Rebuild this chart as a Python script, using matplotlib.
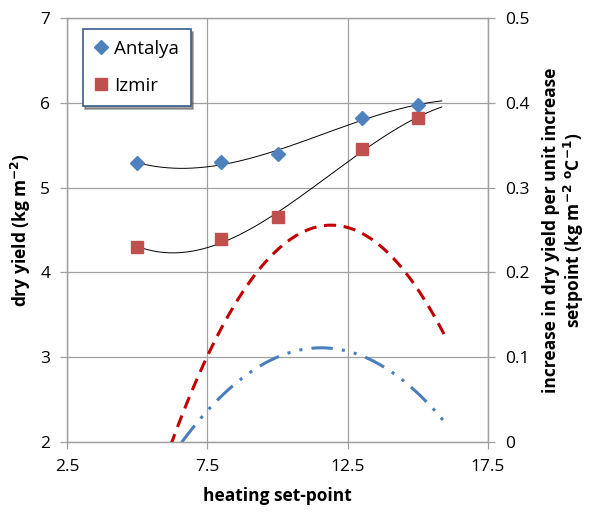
import numpy as np
import matplotlib
matplotlib.use("Agg")
import matplotlib.pyplot as plt

plt.rcParams['font.family'] = ['Open Sans', 'DejaVu Sans']
plt.rcParams['mathtext.default'] = 'bf'

setpoint = [5, 8, 10, 13, 15]
antalya = [5.29, 5.30, 5.40, 5.82, 5.97]
izmir = [4.30, 4.39, 4.65, 5.46, 5.82]
series_names = ["Antalya", "Izmir"]

# increase in dry yield per unit setpoint increase
izmir_rate_x = [6.25, 7.47, 9.37, 10.08, 11.92, 13.93, 14.82, 15.95]
izmir_rate_y = [0.0, 0.099, 0.207, 0.230, 0.254, 0.222, 0.187, 0.128]
antalya_rate_x = [6.63, 7.47, 9.13, 11.56, 13.04, 14.11, 15.30, 15.95]
antalya_rate_y = [0.0, 0.038, 0.083, 0.112, 0.101, 0.081, 0.046, 0.025]

x_ticks = [2.5, 7.5, 12.5, 17.5]
y_ticks = [2, 3, 4, 5, 6, 7]
y2_ticks = [0, 0.1, 0.2, 0.3, 0.4, 0.5]
y2_labels = ['0', '0.1', '0.2', '0.3', '0.4', '0.5']

blue = '#4F81BD'
red = '#C0504D'
grid_c = '#A0A0A0'

fig = plt.figure(figsize=(5.93, 5.18), dpi=100)
ax = fig.add_axes([0.113, 0.147, 0.710, 0.818])
ax2 = ax.twinx()

# trendlines (3rd order polynomial, like Excel), extended forward
xs = np.linspace(5, 15.85, 200)
pa = np.polyfit(setpoint, antalya, 3)
pi = np.polyfit(setpoint, izmir, 3)
ax.plot(xs, np.polyval(pa, xs), color='black', lw=0.7, zorder=3)
ax.plot(xs, np.polyval(pi, xs), color='black', lw=0.7, zorder=3)

ax.plot(setpoint, antalya, linestyle='none', marker='D', ms=7, color=blue,
        label=series_names[0], zorder=4)
ax.plot(setpoint, izmir, linestyle='none', marker='s', ms=8.5, color=red,
        label=series_names[1], zorder=4)

# rate curves on secondary axis (quadratic fit through read points)
xr = np.linspace(5.5, 15.95, 200)
qi = np.polyfit(izmir_rate_x, izmir_rate_y, 2)
qa = np.polyfit(antalya_rate_x, antalya_rate_y, 2)
ax2.plot(xr, np.polyval(qi, xr), color='#C00000', lw=2.2, dashes=(4, 2.5))
ax2.plot(xr, np.polyval(qa, xr), color='#4A7EBB', lw=2.2,
         dashes=(7, 3, 1, 3, 1, 3))

ax.set_xlim(2.5, 17.5)
ax.set_ylim(2, 7)
ax2.set_ylim(0, 0.5)
ax.set_xticks(x_ticks)
ax.set_xticklabels([str(v) for v in x_ticks])
ax.set_yticks(y_ticks)
ax2.set_yticks(y2_ticks)
ax2.set_yticklabels(y2_labels)

ax.grid(True, color=grid_c, lw=0.9)
ax.set_axisbelow(True)
for a in (ax, ax2):
    for s in a.spines.values():
        s.set_color(grid_c)
        s.set_linewidth(0.9)
    a.tick_params(colors=grid_c, labelcolor='black', labelsize=12.5,
                  length=5, width=0.9, pad=7)

ax.set_xlabel('heating set-point', fontsize=12.5, fontweight='bold', labelpad=9)
ax.set_ylabel('dry yield (kg m$^{-2}$)', fontsize=12.5, fontweight='bold', labelpad=5)
ax2.set_ylabel('increase in dry yield per unit increase\nsetpoint (kg m$^{-2}$ $^{o}$C$^{-1}$)',
               fontsize=12.5, fontweight='bold', rotation=90, labelpad=9,
               linespacing=1.1)

leg = ax.legend(loc='upper left', bbox_to_anchor=(0.037, 0.975), fontsize=13.5,
                frameon=True, fancybox=False, shadow=True, borderpad=0.6,
                labelspacing=1.0, handlelength=0.8, handletextpad=0.3,
                borderaxespad=0)
leg.get_frame().set_edgecolor('#385D8A')
leg.get_frame().set_linewidth(1.2)

fig.savefig('out.png', dpi=100)
